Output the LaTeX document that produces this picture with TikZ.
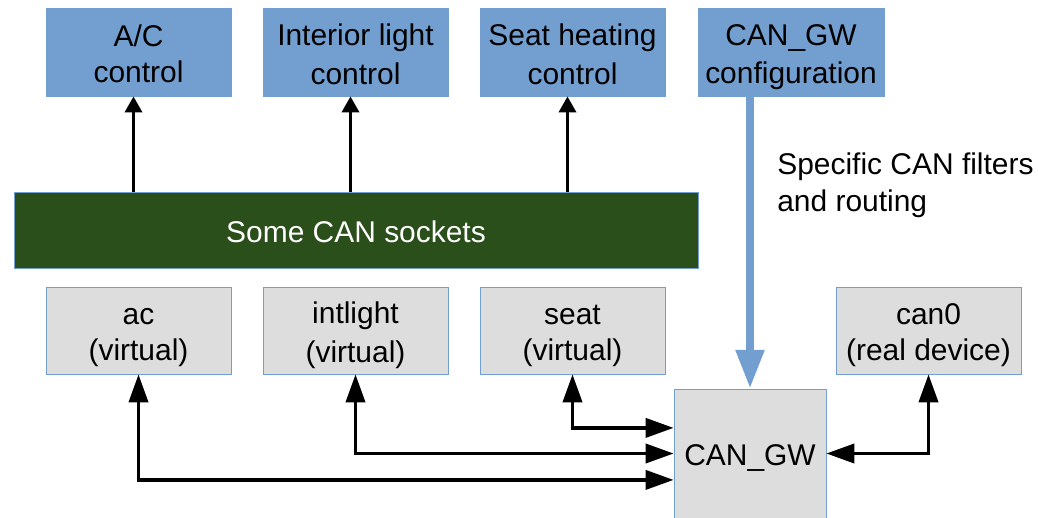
\documentclass[tikz,border=0pt]{standalone}
\usepackage{fontspec}
\setmainfont{Liberation Sans}
\usetikzlibrary{arrows.meta}
\definecolor{ctrlblue}{HTML}{729FCF}
\definecolor{boxgrey}{HTML}{DDDDDD}
\definecolor{sockgreen}{RGB}{43,79,27}
\newcommand{\ls}{\rule[-3.7pt]{0pt}{25.6pt}}
\begin{document}
\begin{tikzpicture}[x=0.025cm, y=-0.025cm,
      every node/.style = {inner sep=0pt, align=center, font=\fontsize{21.3}{25.6}\selectfont},
      ctrl/.style = {draw=ctrlblue, fill=ctrlblue, minimum width=4.625cm, minimum height=2.2cm},
      dev/.style = {draw=ctrlblue, fill=boxgrey, minimum width=4.625cm, minimum height=2.175cm},
      uparrow/.style = {line width=2.8pt, -{Triangle[length=11.5pt,width=12pt]}},
      link/.style = {line width=2.8pt, {Triangle[length=20pt,width=13.5pt]}-{Triangle[length=20pt,width=13.5pt]}},
      cfgarrow/.style = {draw=ctrlblue, line width=6pt, -{Triangle[length=27.7pt,width=19.2pt]}}]
      \useasboundingbox (0,0) rectangle (1038,518);
      % control applications
      \node[ctrl] (topac) at (138.5,52) {\ls A/C\\\ls control};
      \node[ctrl] (toplight) at (355.5,52) {\ls Interior light\\\ls control};
      \node[ctrl] (topseat) at (572.5,52) {\ls Seat heating\\\ls control};
      \node[ctrl, minimum width=4.65cm] (cfg) at (791,52) {\ls CAN\_GW\\\ls configuration};
      \node[draw=ctrlblue, fill=sockgreen, text=white, minimum width=17.1cm, minimum height=1.9cm] (sockets) at (356,230) {\ls Some CAN sockets};
      % interfaces
      \node[dev] (ac) at (138.5,330.5) {\ls ac\\\ls (virtual)};
      \node[dev] (intlight) at (355.5,330.5) {\ls intlight\\\ls (virtual)};
      \node[dev] (seat) at (572.5,330.5) {\ls seat\\\ls (virtual)};
      \node[dev] (can0) at (928.5,330.5) {\ls can0\\\ls (real device)};
      \node[draw=ctrlblue, fill=boxgrey, minimum width=3.8cm, minimum height=3.225cm] (gw) at (750,453.5) {\ls CAN\_GW};
      \node[anchor=west, align=left, font=\fontsize{21.3}{26.5}\selectfont] (filters) at (777,185) {Specific CAN filters\\and routing};
      \foreach \n in {topac, toplight, topseat}
        \draw[uparrow] ([xshift=-0.125cm]sockets.north -| \n.south) -- ([xshift=-0.125cm]\n.south);
      \draw[cfgarrow] (gw.north |- cfg.south) -- (gw.north);
      \draw[link] (seat.south) |- ([yshift=0.64cm]gw.west);
      \draw[link] (intlight.south) |- (gw.west);
      \draw[link] (ac.south) |- ([yshift=-0.66cm]gw.west);
      \draw[link] (can0.south) |- (gw.east);
    \end{tikzpicture}
\end{document}
